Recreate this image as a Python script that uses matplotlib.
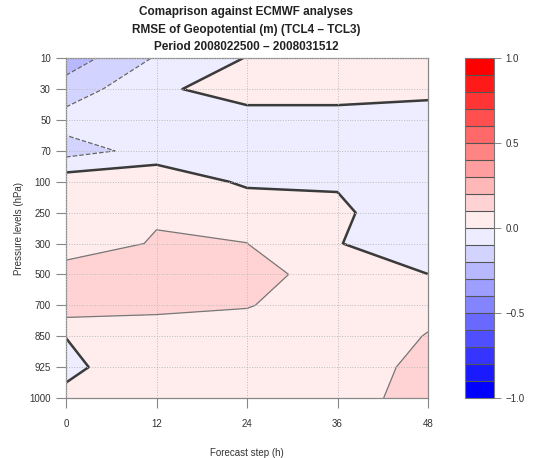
import numpy as np
import matplotlib
matplotlib.use("Agg")
import matplotlib.pyplot as plt
from matplotlib.colors import ListedColormap, BoundaryNorm

plt.rcParams['font.family'] = ['Liberation Sans', 'DejaVu Sans']

steps = [0, 12, 24, 36, 48]
plevs = ['10', '30', '50', '70', '100', '250', '300', '500', '700', '850', '925', '1000']

# RMSE difference (TCL4 - TCL3), one row per pressure level, one value per step
lev10 = [-0.255, -0.090, 0.004, 0.050, 0.050]
lev30 = [-0.155, -0.020, 0.050, 0.050, 0.050]
lev50 = [-0.060, -0.040, -0.046, -0.046, -0.089]
lev70 = [-0.140, -0.066, -0.050, -0.050, -0.060]
lev100 = [0.060, 0.081, -0.020, -0.005, -0.050]
lev250 = [0.060, 0.090, 0.080, 0.010, -0.040]
lev300 = [0.050, 0.108, 0.1005, 0.005, -0.080]
lev500 = [0.143, 0.170, 0.134, 0.060, 0.001]
lev700 = [0.163, 0.130, 0.105, 0.050, 0.070]
lev850 = [0.002, 0.030, 0.055, 0.030, 0.105]
lev925 = [-0.030, 0.090, 0.060, 0.050, 0.127]
lev1000 = [0.030, 0.050, 0.050, 0.050, 0.148]

diff = np.array([lev10, lev30, lev50, lev70, lev100, lev250, lev300,
                 lev500, lev700, lev850, lev925, lev1000])

bounds = np.round(np.arange(-1.0, 1.01, 0.1), 2)
neg = [(g, g, 1.0) for g in np.linspace(0.0, 0.93, 10)]
pos = [(1.0, g, g) for g in np.linspace(0.93, 0.0, 10)]
cmap = ListedColormap(neg + pos)
norm = BoundaryNorm(bounds, cmap.N)

fig = plt.figure(figsize=(5.33, 4.58), dpi=100)
ax = fig.add_axes([0.124, 0.131, 0.679, 0.742])

yy = np.arange(len(plevs))
cf = ax.contourf(steps, yy, diff, levels=bounds, cmap=cmap, norm=norm)

# contour lines
ax.contour(steps, yy, diff, levels=[-0.3, -0.2, -0.1], colors='#666666',
           linewidths=0.9, linestyles='--')
ax.contour(steps, yy, diff, levels=[0.1, 0.2, 0.3], colors='#777777',
           linewidths=0.9, linestyles='-')
ax.contour(steps, yy, diff, levels=[0.0], colors='#3a3a3a',
           linewidths=1.8, linestyles='-')

ax.set_xlim(0, 48)
ax.set_ylim(len(plevs) - 1, 0)
ax.set_xticks(steps)
ax.set_yticks(yy)
ax.set_yticklabels(plevs)
ax.grid(True, linestyle=':', color='#bbbbbb', linewidth=0.7)
ax.set_axisbelow(False)
ax.tick_params(direction='out', length=7, width=0.8, color='#888888',
               labelsize=7, labelcolor='#333333', pad=4)
ax.tick_params(axis='x', pad=8)
for s in ax.spines.values():
    s.set_color('#888888')
    s.set_linewidth(0.9)

ax.set_xlabel('Forecast step (h)', fontsize=7, color='#333333', labelpad=14)
ax.set_ylabel('Pressure levels (hPa)', fontsize=7, color='#333333', labelpad=4)

fig.text(0.462, 0.974, 'Comaprison against ECMWF analyses', ha='center', va='center',
         fontsize=8.5, fontweight='bold', color='#222222')
fig.text(0.462, 0.935, 'RMSE of Geopotential (m) (TCL4 \u2013 TCL3)', ha='center', va='center',
         fontsize=8.5, fontweight='bold', color='#222222')
fig.text(0.462, 0.897, 'Period 2008022500 \u2013 2008031512', ha='center', va='center',
         fontsize=8.5, fontweight='bold', color='#222222')

cax = fig.add_axes([0.872, 0.131, 0.054, 0.742])
cb = fig.colorbar(cf, cax=cax, ticks=[-1.0, -0.5, 0.0, 0.5, 1.0], drawedges=True)
cb.minorticks_off()
cb.ax.set_yticklabels(['\u22121.0', '\u22120.5', '0.0', '0.5', '1.0'])
cb.dividers.set_color('#555555')
cb.dividers.set_linewidth(0.8)
cb.outline.set_edgecolor('#777777')
cb.outline.set_linewidth(0.8)
cb.ax.tick_params(direction='out', length=5, width=0.7, color='#888888',
                  labelsize=7, labelcolor='#333333')

fig.savefig('out.png', dpi=100)
